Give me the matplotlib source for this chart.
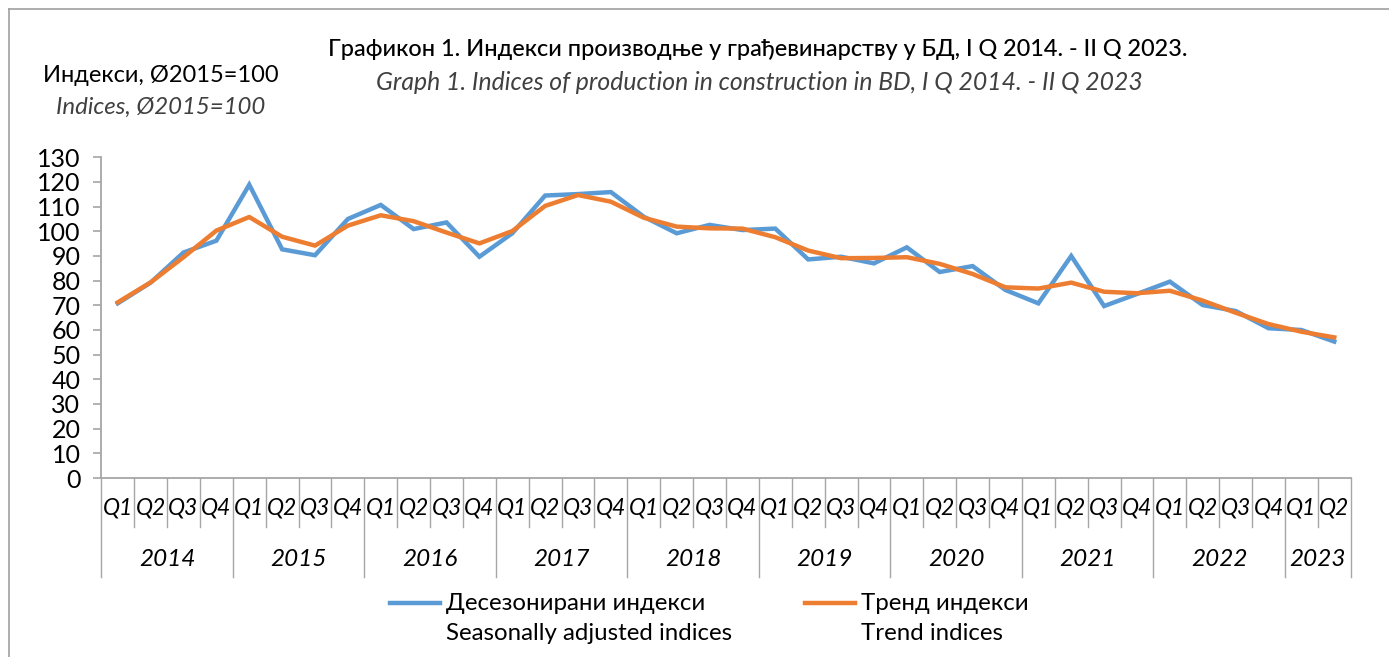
import matplotlib
matplotlib.use("Agg")
import matplotlib.pyplot as plt
from matplotlib.lines import Line2D

plt.rcParams['font.family'] = ['Lato', 'Open Sans', 'DejaVu Sans']

years = ["2014", "2015", "2016", "2017", "2018", "2019", "2020", "2021", "2022", "2023"]
quarters = ["Q1", "Q2", "Q3", "Q4"] * 9 + ["Q1", "Q2"]

seasonal = [70.8, 79.2, 91.4, 96.2, 118.9, 92.7, 90.3, 105.0, 110.7, 100.9,
            103.6, 89.7, 99.2, 114.5, 115.1, 115.9, 105.9, 99.2, 102.6, 100.5,
            101.1, 88.6, 89.7, 87.0, 93.5, 83.5, 85.9, 76.2, 70.8, 90.0,
            69.7, 74.6, 79.6, 70.1, 67.7, 60.7, 60.0, 55.3]
trend = [71.2, 79.3, 89.5, 100.3, 105.8, 97.8, 94.2, 102.3, 106.5, 104.1,
         99.5, 95.1, 100.1, 110.3, 114.7, 112.0, 105.5, 101.9, 101.2, 101.1,
         97.6, 92.2, 89.1, 89.2, 89.5, 86.8, 82.7, 77.3, 76.8, 79.2,
         75.5, 74.9, 75.9, 71.9, 67.0, 62.4, 59.3, 57.0]

blue = "#5B9BD5"
orange = "#ED7D31"
grey = "#A6A6A6"

W, H = 1389, 657
fig = plt.figure(figsize=(W / 100, H / 100), dpi=100)
ax = fig.add_axes([101.3 / W, 1 - 478 / H, (1350.7 - 101.3) / W, (478 - 157.3) / H])

x = list(range(len(seasonal)))
ax.plot(x, seasonal, color=blue, lw=3.2, solid_joinstyle='miter')
ax.plot(x, trend, color=orange, lw=3.2, solid_joinstyle='round')

ax.set_xlim(-0.5, len(x) - 0.5)
ax.set_ylim(0, 130)
ax.set_yticks(range(0, 131, 10))
ax.tick_params(axis='y', direction='out', length=6, width=1.2, color=grey,
               labelsize=18, pad=9)
ax.set_xticks(x, quarters, fontstyle='italic', fontsize=16.5)
ax.tick_params(axis='x', length=0, pad=14)
for s in ['top', 'right']:
    ax.spines[s].set_visible(False)
for s in ['left', 'bottom']:
    ax.spines[s].set_color(grey)
    ax.spines[s].set_linewidth(1.3)

# multi-level category separators
axh = 478 - 157.3
trans = ax.get_xaxis_transform()
for b in range(len(x) + 1):
    depth = 99 if (b % 4 == 0 or b == len(x)) else 49
    ax.plot([b - 0.5, b - 0.5], [0, -depth / axh], transform=trans,
            color=grey, lw=1.0, clip_on=False)
for k, yr in enumerate(years):
    start = 4 * k
    end = min(4 * k + 3, len(x) - 1)
    ax.text((start + end) / 2, -82 / axh, yr, transform=trans, ha='center',
            va='center', fontsize=17.5, fontstyle='italic')

# titles
fig.text(758 / W, 1 - 50 / H, "Графикон 1. Индекси производње у грађевинарству у БД, I Q 2014. - II Q 2023.",
         ha='center', va='center', fontsize=16.9, fontweight='medium')
fig.text(759 / W, 1 - 83 / H, "Graph 1. Indices of production in construction in BD, I Q 2014. - II Q 2023",
         ha='center', va='center', fontsize=17.8, fontstyle='italic', color='#404040')
fig.text(161 / W, 1 - 75 / H, "Индекси, Ø2015=100", ha='center', va='center', fontsize=17)
fig.text(161 / W, 1 - 107 / H, "Indices, Ø2015=100", ha='center', va='center',
         fontsize=17.3, fontstyle='italic', color='#404040')

# legend
for x0, col, l1, l2 in [(390, blue, "Десезонирани индекси", "Seasonally adjusted indices"),
                        (805, orange, "Тренд индекси", "Trend indices")]:
    fig.add_artist(Line2D([x0 / W, (x0 + 50) / W], [1 - 603 / H] * 2, color=col, lw=3.2))
    fig.text((x0 + 56) / W, 1 - 603 / H, l1, ha='left', va='center', fontsize=17.3)
    fig.text((x0 + 56) / W, 1 - 633 / H, l2, ha='left', va='center', fontsize=17.3)

# chart border
fig.add_artist(Line2D([8.7 / W, 8.7 / W], [0, 1 - 8.5 / H], color='#A0A0A0', lw=1.2))
fig.add_artist(Line2D([8.7 / W, 1], [1 - 8.5 / H] * 2, color='#A0A0A0', lw=1.2))

fig.savefig("out.png", dpi=100)
